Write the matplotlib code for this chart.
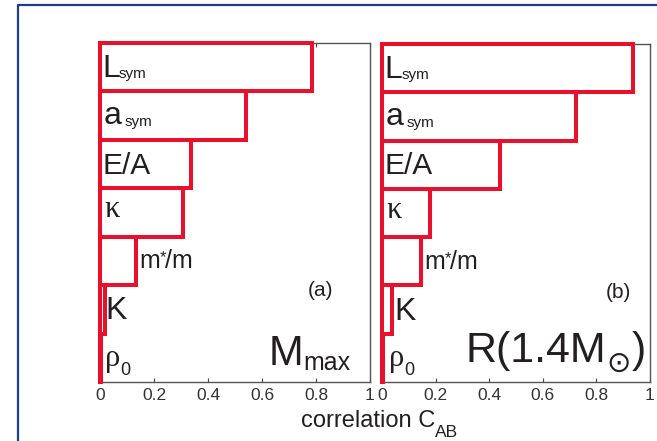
import matplotlib
matplotlib.use("Agg")
import matplotlib.pyplot as plt
import matplotlib.transforms as mtransforms
from matplotlib.lines import Line2D

# ---------------- data ----------------
params = ["rho0", "K", "m*/m", "kappa", "E/A", "a_sym", "L_sym"]  # bottom -> top
corr_mmax = [0.003, 0.017, 0.135, 0.306, 0.338, 0.54, 0.784]
corr_r14 = [0.005, 0.037, 0.146, 0.18, 0.44, 0.723, 0.936]
xticks = [0, 0.2, 0.4, 0.6, 0.8, 1.0]
xticklabels = ["0", "0.2", "0.4", "0.6", "0.8", "1"]
panel_tags = ["(a)", "(b)"]

SANS = "Liberation Sans"
SERIF = "Liberation Serif"
RED = "#e8112d"
TXT = "#231f20"

fig = plt.figure(figsize=(6.57, 4.41), dpi=100)
renderer = fig.canvas.get_renderer()


def chain(host, x, y, trans, pieces):
    """pieces: (string, size, family, extra_dx_px, dy_px)"""
    dx = 0.0
    for s, size, fam, edx, dy in pieces:
        dx += edx
        tr = mtransforms.offset_copy(trans, fig=fig, x=dx, y=dy, units="dots")
        t = host.text(x, y, s, fontsize=size, family=fam, color=TXT,
                      transform=tr, ha="left", va="baseline", zorder=5)
        bb = t.get_window_extent(renderer)
        dx += bb.width


axa = fig.add_axes([100 / 657, 59 / 441, 270 / 657, 339 / 441])
axb = fig.add_axes([382 / 657, 59 / 441, 268 / 657, 338 / 441])

for ax, vals in ((axa, corr_mmax), (axb, corr_r14)):
    ax.barh(range(len(params)), vals, height=1.0, left=0, color="white",
            edgecolor=RED, linewidth=2.9, clip_on=False, zorder=3)
    ax.set_xlim(0, 1)
    ax.set_ylim(-0.5, len(params) - 0.5)
    ax.set_yticks([])
    ax.set_xticks(xticks)
    ax.set_xticklabels(xticklabels, family=SANS, fontsize=12.5, color="#333333")
    ax.tick_params(axis="x", direction="in", top=True, bottom=True, length=3,
                   width=0.8, color="#444444", pad=4)
    for sp in ax.spines.values():
        sp.set_color("#555555")
        sp.set_linewidth(1.0)

# ---- bar labels ----
def bar_labels(ax, vals, xs):
    T = ax.transData
    chain(ax, xs["L"], 5.80, T, [("L", 23, SANS, 0, 0), ("sym", 11, SANS, -1, -1)])
    chain(ax, xs["a"], 4.83, T, [("a", 23, SANS, 0, 0), ("sym", 11, SANS, 3, -2)])
    chain(ax, xs["E"], 3.80, T, [("E/A", 21.5, SANS, 0, 0)])
    chain(ax, xs["k"], 2.90, T, [("\u03ba", 22, SERIF, 0, 0)])
    chain(ax, vals[2] + xs["m"], xs["my"], T,
          [("m", 18, SANS, 0, 0), ("*", 12, SANS, 0, 6), ("/m", 18, SANS, -1, 0)])
    chain(ax, vals[1] + xs["K"], xs["Ky"], T, [("K", 23, SANS, 0, 0)])
    chain(ax, xs["r"], -0.17, T, [("\u03c1", 22, SERIF, 0, 0), ("0", 13, SANS, 0, -9)])


bar_labels(axa, corr_mmax, dict(L=0.007, a=0.013, E=0.01, k=0.018, m=0.009,
                               my=1.85, K=0.003, Ky=0.80, r=0.018))
bar_labels(axb, corr_r14, dict(L=0.010, a=0.013, E=0.01, k=0.018, m=0.011,
                              my=1.83, K=0.008, Ky=0.78, r=0.026))

# panel tags
axa.text(0.77, 0.254, panel_tags[0], transform=axa.transAxes, fontsize=15,
         family=SANS, color=TXT, va="baseline")
axb.text(0.835, 0.25, panel_tags[1], transform=axb.transAxes, fontsize=15,
         family=SANS, color=TXT, va="baseline")

# big labels
chain(axa, 0.625, 0.05, axa.transAxes,
      [("M", 30, SANS, 0, 0), ("max", 18, SANS, 0, -5)])
chain(axb, 0.31, 0.059, axb.transAxes,
      [("R(1.4M", 31, SANS, 0, 0), ("\u2299", 21, "DejaVu Sans", 1, -10),
       (")", 31, SANS, 1, 0)])

# x label
chain(fig, 301 / 657, 14 / 441, fig.transFigure,
      [("correlation C", 17, SANS, 0, 0), ("AB", 12.5, SANS, 0, -10)])

# outer frame
fig.add_artist(Line2D([18 / 657, 18 / 657, 1.0], [0, 1 - 5 / 441, 1 - 5 / 441],
                      transform=fig.transFigure, color="#1f3d8a", lw=1.6))

fig.savefig("out.png", dpi=100)
